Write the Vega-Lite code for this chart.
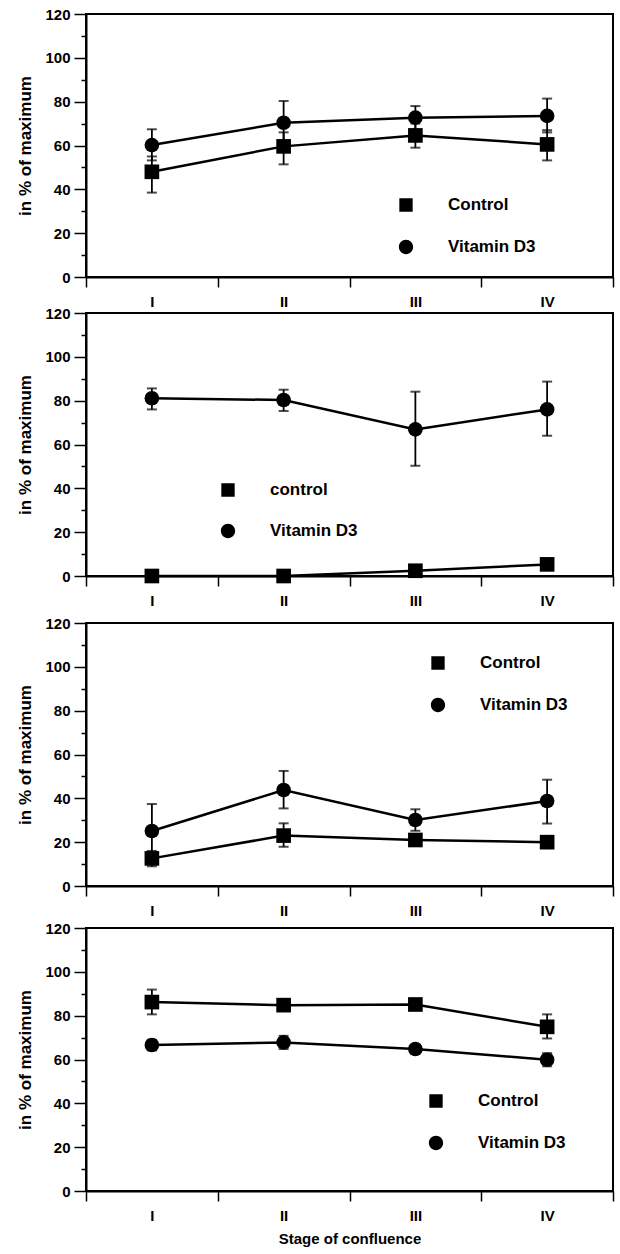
{
  "$schema": "https://vega.github.io/schema/vega-lite/v6.json",
  "padding": {"left": 15, "top": 6, "right": 4, "bottom": 4},
  "background": "white",
  "spacing": 6,
  "config": {
    "font": "Liberation Sans",
    "view": {"stroke": "black", "strokeWidth": 2},
    "axis": {"labelFont": "Liberation Sans", "titleFont": "Liberation Sans", "labelColor": "black", "titleColor": "black", "tickColor": "black", "domainColor": "black", "grid": false},
    "legend": {"labelFont": "Liberation Sans", "labelColor": "black"}
  },
  "resolve": {"scale": {"fill": "independent"}, "legend": {"fill": "independent"}},
  "datasets": {
    "procol": [
      {"stage": "I", "series": "Control", "mean": 48, "lo": 38.5, "hi": 55},
      {"stage": "II", "series": "Control", "mean": 59.6, "lo": 51.4, "hi": 66},
      {"stage": "III", "series": "Control", "mean": 64.6, "lo": 59, "hi": 70},
      {"stage": "IV", "series": "Control", "mean": 60.5, "lo": 53.2, "hi": 67},
      {"stage": "I", "series": "Vitamin D3", "mean": 60.2, "lo": 53.2, "hi": 67.4},
      {"stage": "II", "series": "Vitamin D3", "mean": 70.4, "lo": 61, "hi": 80.3},
      {"stage": "III", "series": "Vitamin D3", "mean": 72.7, "lo": 67, "hi": 78},
      {"stage": "IV", "series": "Vitamin D3", "mean": 73.5, "lo": 66, "hi": 81.4}
    ],
    "oc": [
      {"stage": "I", "series": "control", "mean": 0, "lo": 0, "hi": 0},
      {"stage": "II", "series": "control", "mean": 0, "lo": 0, "hi": 0},
      {"stage": "III", "series": "control", "mean": 2.4, "lo": 1.5, "hi": 3.3},
      {"stage": "IV", "series": "control", "mean": 5.3, "lo": 4, "hi": 6.6},
      {"stage": "I", "series": "Vitamin D3", "mean": 81.1, "lo": 76, "hi": 85.6},
      {"stage": "II", "series": "Vitamin D3", "mean": 80.3, "lo": 75.3, "hi": 85},
      {"stage": "III", "series": "Vitamin D3", "mean": 66.9, "lo": 50.3, "hi": 84.1},
      {"stage": "IV", "series": "Vitamin D3", "mean": 76, "lo": 64, "hi": 88.7}
    ],
    "ap": [
      {"stage": "I", "series": "Control", "mean": 12.6, "lo": 9, "hi": 16},
      {"stage": "II", "series": "Control", "mean": 23, "lo": 17.9, "hi": 28.6},
      {"stage": "III", "series": "Control", "mean": 21, "lo": 19, "hi": 23},
      {"stage": "IV", "series": "Control", "mean": 20, "lo": 18, "hi": 22},
      {"stage": "I", "series": "Vitamin D3", "mean": 25.1, "lo": 13, "hi": 37.4},
      {"stage": "II", "series": "Vitamin D3", "mean": 43.8, "lo": 35.4, "hi": 52.5},
      {"stage": "III", "series": "Vitamin D3", "mean": 30.1, "lo": 25.2, "hi": 35},
      {"stage": "IV", "series": "Vitamin D3", "mean": 38.8, "lo": 28.5, "hi": 48.5}
    ],
    "gapdh": [
      {"stage": "I", "series": "Control", "mean": 86.2, "lo": 80.6, "hi": 91.9},
      {"stage": "II", "series": "Control", "mean": 84.8, "lo": 82.6, "hi": 87},
      {"stage": "III", "series": "Control", "mean": 85.1, "lo": 83, "hi": 87.2},
      {"stage": "IV", "series": "Control", "mean": 74.9, "lo": 69.6, "hi": 80.6},
      {"stage": "I", "series": "Vitamin D3", "mean": 66.6, "lo": 64.2, "hi": 69},
      {"stage": "II", "series": "Vitamin D3", "mean": 67.8, "lo": 64.8, "hi": 70.8},
      {"stage": "III", "series": "Vitamin D3", "mean": 64.8, "lo": 63, "hi": 66.6},
      {"stage": "IV", "series": "Vitamin D3", "mean": 59.9, "lo": 56.9, "hi": 62.9}
    ],
    "stars": [
      {"panel": "procol", "stage": "III", "stars": "*"},
      {"panel": "oc", "stage": "III", "stars": "**"},
      {"panel": "oc", "stage": "IV", "stars": "**"},
      {"panel": "gapdh", "stage": "I", "stars": "**"},
      {"panel": "gapdh", "stage": "II", "stars": "**"},
      {"panel": "gapdh", "stage": "III", "stars": "***"},
      {"panel": "gapdh", "stage": "IV", "stars": "**"}
    ],
    "labels": [
      {"panel": "procol", "stage": "I", "label": "procol I"},
      {"panel": "oc", "stage": "I", "label": "OC"},
      {"panel": "ap", "stage": "I", "label": "AP"},
      {"panel": "gapdh", "stage": "I", "label": "GAPDH"}
    ]
  },
  "vconcat": [
    {
      "spacing": -5,
      "resolve": {"scale": {"fill": "independent"}, "legend": {"fill": "independent"}},
      "vconcat": [
        {
          "width": 527, "height": 263,
          "data": {"name": "procol"},
          "resolve": {"scale": {"fill": "independent"}, "legend": {"fill": "independent"}},
          "encoding": {
            "x": {"field": "stage", "type": "nominal", "scale": {"paddingInner": 0, "paddingOuter": 0},
              "axis": {"title": null, "tickBand": "extent", "tickSize": 10, "tickWidth": 1.5, "labelAngle": 0, "labelPadding": 7, "labelFontSize": 15, "labelFontWeight": "bold", "domainWidth": 2}},
            "y": {"field": "mean", "type": "quantitative", "scale": {"domain": [0, 120], "nice": false},
              "axis": {"title": "in % of maximum", "titleFontSize": 17, "titleFontWeight": "bold", "titlePadding": 10, "values": [0, 10, 20, 30, 40, 50, 60, 70, 80, 90, 100, 110, 120], "labelExpr": "datum.value % 20 == 0 ? datum.label : ''", "labelFontSize": 15, "labelFontWeight": "bold", "labelPadding": 4, "tickSize": {"condition": {"test": "datum.value % 20 == 0", "value": 12}, "value": 5}, "tickWidth": 1.5, "domainWidth": 2}}
          },
          "layer": [
            {"mark": {"type": "rule", "color": "black", "strokeWidth": 1.8}, "encoding": {"y": {"field": "lo", "type": "quantitative", "title": "in % of maximum"}, "y2": {"field": "hi"}}},
            {"mark": {"type": "tick", "color": "black", "thickness": 2, "size": 10}, "encoding": {"y": {"field": "lo", "type": "quantitative", "title": "in % of maximum"}}},
            {"mark": {"type": "tick", "color": "black", "thickness": 2, "size": 10}, "encoding": {"y": {"field": "hi", "type": "quantitative", "title": "in % of maximum"}}},
            {"mark": {"type": "line", "color": "black", "strokeWidth": 2.5}, "encoding": {"detail": {"field": "series"}}},
            {"transform": [{"filter": "datum.series != 'Vitamin D3'"}],
              "mark": {"type": "point", "shape": "square", "filled": true, "opacity": 1, "size": 215},
              "encoding": {"fill": {"field": "series", "type": "nominal", "scale": {"range": ["black"]},
                "legend": {"title": null, "orient": "none", "legendX": 296, "legendY": 167, "padding": 0, "symbolType": "M-1,0L1,0M-0.29,-0.29L0.29,-0.29L0.29,0.29L-0.29,0.29Z", "symbolSize": 2116, "labelFontSize": 17, "labelFontWeight": "bold", "labelOffset": 18,
                  "encode": {"symbols": {"update": {"shape": {"value": "M-1,0L1,0M-0.29,-0.29L0.29,-0.29L0.29,0.29L-0.29,0.29Z"}, "size": {"value": 2116}, "stroke": {"value": "black"}, "strokeWidth": {"value": 2.5}, "fill": {"value": "black"}, "opacity": {"value": 1}}}}}}}},
            {"transform": [{"filter": "datum.series == 'Vitamin D3'"}],
              "mark": {"type": "point", "shape": "circle", "filled": true, "opacity": 1, "size": 215},
              "encoding": {"fill": {"field": "series", "type": "nominal", "scale": {"range": ["black"]},
                "legend": {"title": null, "orient": "none", "legendX": 296, "legendY": 209, "padding": 0, "symbolType": "M-1,0L1,0M0.31,0A0.31,0.31,0,1,1,-0.31,0A0.31,0.31,0,1,1,0.31,0Z", "symbolSize": 2116, "labelFontSize": 17, "labelFontWeight": "bold", "labelOffset": 18,
                  "encode": {"symbols": {"update": {"shape": {"value": "M-1,0L1,0M0.31,0A0.31,0.31,0,1,1,-0.31,0A0.31,0.31,0,1,1,0.31,0Z"}, "size": {"value": 2116}, "stroke": {"value": "black"}, "strokeWidth": {"value": 2.5}, "fill": {"value": "black"}, "opacity": {"value": 1}}}}}}}},
            {"data": {"name": "stars"}, "transform": [{"filter": "datum.panel == 'procol'"}],
              "mark": {"type": "text", "fontSize": 20, "fontWeight": "bold", "color": "black", "baseline": "middle"},
              "encoding": {"y": {"datum": 84, "type": "quantitative"}, "text": {"field": "stars"}}},
            {"data": {"name": "labels"}, "transform": [{"filter": "datum.panel == 'procol'"}],
              "mark": {"type": "text", "align": "left", "baseline": "middle", "dx": -45, "fontSize": 25, "fontWeight": "bold", "color": "black"},
              "encoding": {"y": {"datum": 107.7, "type": "quantitative"}, "text": {"field": "label"}}}
          ]
        },
        {
          "width": 527, "height": 263,
          "data": {"name": "oc"},
          "resolve": {"scale": {"fill": "independent"}, "legend": {"fill": "independent"}},
          "encoding": {
            "x": {"field": "stage", "type": "nominal", "scale": {"paddingInner": 0, "paddingOuter": 0},
              "axis": {"title": null, "tickBand": "extent", "tickSize": 10, "tickWidth": 1.5, "labelAngle": 0, "labelPadding": 7, "labelFontSize": 15, "labelFontWeight": "bold", "domainWidth": 2}},
            "y": {"field": "mean", "type": "quantitative", "scale": {"domain": [0, 120], "nice": false},
              "axis": {"title": "in % of maximum", "titleFontSize": 17, "titleFontWeight": "bold", "titlePadding": 10, "values": [0, 10, 20, 30, 40, 50, 60, 70, 80, 90, 100, 110, 120], "labelExpr": "datum.value % 20 == 0 ? datum.label : ''", "labelFontSize": 15, "labelFontWeight": "bold", "labelPadding": 4, "tickSize": {"condition": {"test": "datum.value % 20 == 0", "value": 12}, "value": 5}, "tickWidth": 1.5, "domainWidth": 2}}
          },
          "layer": [
            {"mark": {"type": "rule", "color": "black", "strokeWidth": 1.8}, "encoding": {"y": {"field": "lo", "type": "quantitative", "title": "in % of maximum"}, "y2": {"field": "hi"}}},
            {"mark": {"type": "tick", "color": "black", "thickness": 2, "size": 10}, "encoding": {"y": {"field": "lo", "type": "quantitative", "title": "in % of maximum"}}},
            {"mark": {"type": "tick", "color": "black", "thickness": 2, "size": 10}, "encoding": {"y": {"field": "hi", "type": "quantitative", "title": "in % of maximum"}}},
            {"mark": {"type": "line", "color": "black", "strokeWidth": 2.5}, "encoding": {"detail": {"field": "series"}}},
            {"transform": [{"filter": "datum.series != 'Vitamin D3'"}],
              "mark": {"type": "point", "shape": "square", "filled": true, "opacity": 1, "size": 215},
              "encoding": {"fill": {"field": "series", "type": "nominal", "scale": {"range": ["black"]},
                "legend": {"title": null, "orient": "none", "legendX": 118, "legendY": 153, "padding": 0, "symbolType": "M-1,0L1,0M-0.29,-0.29L0.29,-0.29L0.29,0.29L-0.29,0.29Z", "symbolSize": 2116, "labelFontSize": 17, "labelFontWeight": "bold", "labelOffset": 18,
                  "encode": {"symbols": {"update": {"shape": {"value": "M-1,0L1,0M-0.29,-0.29L0.29,-0.29L0.29,0.29L-0.29,0.29Z"}, "size": {"value": 2116}, "stroke": {"value": "black"}, "strokeWidth": {"value": 2.5}, "fill": {"value": "black"}, "opacity": {"value": 1}}}}}}}},
            {"transform": [{"filter": "datum.series == 'Vitamin D3'"}],
              "mark": {"type": "point", "shape": "circle", "filled": true, "opacity": 1, "size": 215},
              "encoding": {"fill": {"field": "series", "type": "nominal", "scale": {"range": ["black"]},
                "legend": {"title": null, "orient": "none", "legendX": 118, "legendY": 194, "padding": 0, "symbolType": "M-1,0L1,0M0.31,0A0.31,0.31,0,1,1,-0.31,0A0.31,0.31,0,1,1,0.31,0Z", "symbolSize": 2116, "labelFontSize": 17, "labelFontWeight": "bold", "labelOffset": 18,
                  "encode": {"symbols": {"update": {"shape": {"value": "M-1,0L1,0M0.31,0A0.31,0.31,0,1,1,-0.31,0A0.31,0.31,0,1,1,0.31,0Z"}, "size": {"value": 2116}, "stroke": {"value": "black"}, "strokeWidth": {"value": 2.5}, "fill": {"value": "black"}, "opacity": {"value": 1}}}}}}}},
            {"data": {"name": "stars"}, "transform": [{"filter": "datum.panel == 'oc'"}],
              "mark": {"type": "text", "fontSize": 20, "fontWeight": "bold", "color": "black", "baseline": "middle"},
              "encoding": {"y": {"datum": 94.7, "type": "quantitative"}, "text": {"field": "stars"}}},
            {"data": {"name": "labels"}, "transform": [{"filter": "datum.panel == 'oc'"}],
              "mark": {"type": "text", "align": "left", "baseline": "middle", "dx": -45, "fontSize": 25, "fontWeight": "bold", "color": "black"},
              "encoding": {"y": {"datum": 18.3, "type": "quantitative"}, "text": {"field": "label"}}}
          ]
        }
      ]
    },
    {
      "spacing": 1,
      "resolve": {"scale": {"fill": "independent"}, "legend": {"fill": "independent"}},
      "vconcat": [
        {
          "width": 527, "height": 263,
          "data": {"name": "ap"},
          "resolve": {"scale": {"fill": "independent"}, "legend": {"fill": "independent"}},
          "encoding": {
            "x": {"field": "stage", "type": "nominal", "scale": {"paddingInner": 0, "paddingOuter": 0},
              "axis": {"title": null, "tickBand": "extent", "tickSize": 10, "tickWidth": 1.5, "labelAngle": 0, "labelPadding": 7, "labelFontSize": 15, "labelFontWeight": "bold", "domainWidth": 2}},
            "y": {"field": "mean", "type": "quantitative", "scale": {"domain": [0, 120], "nice": false},
              "axis": {"title": "in % of maximum", "titleFontSize": 17, "titleFontWeight": "bold", "titlePadding": 10, "values": [0, 10, 20, 30, 40, 50, 60, 70, 80, 90, 100, 110, 120], "labelExpr": "datum.value % 20 == 0 ? datum.label : ''", "labelFontSize": 15, "labelFontWeight": "bold", "labelPadding": 4, "tickSize": {"condition": {"test": "datum.value % 20 == 0", "value": 12}, "value": 5}, "tickWidth": 1.5, "domainWidth": 2}}
          },
          "layer": [
            {"mark": {"type": "rule", "color": "black", "strokeWidth": 1.8}, "encoding": {"y": {"field": "lo", "type": "quantitative", "title": "in % of maximum"}, "y2": {"field": "hi"}}},
            {"mark": {"type": "tick", "color": "black", "thickness": 2, "size": 10}, "encoding": {"y": {"field": "lo", "type": "quantitative", "title": "in % of maximum"}}},
            {"mark": {"type": "tick", "color": "black", "thickness": 2, "size": 10}, "encoding": {"y": {"field": "hi", "type": "quantitative", "title": "in % of maximum"}}},
            {"mark": {"type": "line", "color": "black", "strokeWidth": 2.5}, "encoding": {"detail": {"field": "series"}}},
            {"transform": [{"filter": "datum.series != 'Vitamin D3'"}],
              "mark": {"type": "point", "shape": "square", "filled": true, "opacity": 1, "size": 215},
              "encoding": {"fill": {"field": "series", "type": "nominal", "scale": {"range": ["black"]},
                "legend": {"title": null, "orient": "none", "legendX": 328, "legendY": 16, "padding": 0, "symbolType": "M-1,0L1,0M-0.29,-0.29L0.29,-0.29L0.29,0.29L-0.29,0.29Z", "symbolSize": 2116, "labelFontSize": 17, "labelFontWeight": "bold", "labelOffset": 18,
                  "encode": {"symbols": {"update": {"shape": {"value": "M-1,0L1,0M-0.29,-0.29L0.29,-0.29L0.29,0.29L-0.29,0.29Z"}, "size": {"value": 2116}, "stroke": {"value": "black"}, "strokeWidth": {"value": 2.5}, "fill": {"value": "black"}, "opacity": {"value": 1}}}}}}}},
            {"transform": [{"filter": "datum.series == 'Vitamin D3'"}],
              "mark": {"type": "point", "shape": "circle", "filled": true, "opacity": 1, "size": 215},
              "encoding": {"fill": {"field": "series", "type": "nominal", "scale": {"range": ["black"]},
                "legend": {"title": null, "orient": "none", "legendX": 328, "legendY": 58, "padding": 0, "symbolType": "M-1,0L1,0M0.31,0A0.31,0.31,0,1,1,-0.31,0A0.31,0.31,0,1,1,0.31,0Z", "symbolSize": 2116, "labelFontSize": 17, "labelFontWeight": "bold", "labelOffset": 18,
                  "encode": {"symbols": {"update": {"shape": {"value": "M-1,0L1,0M0.31,0A0.31,0.31,0,1,1,-0.31,0A0.31,0.31,0,1,1,0.31,0Z"}, "size": {"value": 2116}, "stroke": {"value": "black"}, "strokeWidth": {"value": 2.5}, "fill": {"value": "black"}, "opacity": {"value": 1}}}}}}}},
            {"data": {"name": "labels"}, "transform": [{"filter": "datum.panel == 'ap'"}],
              "mark": {"type": "text", "align": "left", "baseline": "middle", "dx": -46, "fontSize": 25, "fontWeight": "bold", "color": "black"},
              "encoding": {"y": {"datum": 95.2, "type": "quantitative"}, "text": {"field": "label"}}}
          ]
        },
        {
          "width": 527, "height": 263,
          "data": {"name": "gapdh"},
          "resolve": {"scale": {"fill": "independent"}, "legend": {"fill": "independent"}},
          "encoding": {
            "x": {"field": "stage", "type": "nominal", "scale": {"paddingInner": 0, "paddingOuter": 0},
              "axis": {"title": "Stage of confluence", "titleFontSize": 15, "titleFontWeight": "bold", "titlePadding": 8, "tickBand": "extent", "tickSize": 10, "tickWidth": 1.5, "labelAngle": 0, "labelPadding": 7, "labelFontSize": 15, "labelFontWeight": "bold", "domainWidth": 2}},
            "y": {"field": "mean", "type": "quantitative", "scale": {"domain": [0, 120], "nice": false},
              "axis": {"title": "in % of maximum", "titleFontSize": 17, "titleFontWeight": "bold", "titlePadding": 10, "values": [0, 10, 20, 30, 40, 50, 60, 70, 80, 90, 100, 110, 120], "labelExpr": "datum.value % 20 == 0 ? datum.label : ''", "labelFontSize": 15, "labelFontWeight": "bold", "labelPadding": 4, "tickSize": {"condition": {"test": "datum.value % 20 == 0", "value": 12}, "value": 5}, "tickWidth": 1.5, "domainWidth": 2}}
          },
          "layer": [
            {"mark": {"type": "rule", "color": "black", "strokeWidth": 1.8}, "encoding": {"y": {"field": "lo", "type": "quantitative", "title": "in % of maximum"}, "y2": {"field": "hi"}}},
            {"mark": {"type": "tick", "color": "black", "thickness": 2, "size": 10}, "encoding": {"y": {"field": "lo", "type": "quantitative", "title": "in % of maximum"}}},
            {"mark": {"type": "tick", "color": "black", "thickness": 2, "size": 10}, "encoding": {"y": {"field": "hi", "type": "quantitative", "title": "in % of maximum"}}},
            {"mark": {"type": "line", "color": "black", "strokeWidth": 2.5}, "encoding": {"detail": {"field": "series"}}},
            {"transform": [{"filter": "datum.series != 'Vitamin D3'"}],
              "mark": {"type": "point", "shape": "square", "filled": true, "opacity": 1, "size": 215},
              "encoding": {"fill": {"field": "series", "type": "nominal", "scale": {"range": ["black"]},
                "legend": {"title": null, "orient": "none", "legendX": 326, "legendY": 149, "padding": 0, "symbolType": "M-1,0L1,0M-0.29,-0.29L0.29,-0.29L0.29,0.29L-0.29,0.29Z", "symbolSize": 2116, "labelFontSize": 17, "labelFontWeight": "bold", "labelOffset": 18,
                  "encode": {"symbols": {"update": {"shape": {"value": "M-1,0L1,0M-0.29,-0.29L0.29,-0.29L0.29,0.29L-0.29,0.29Z"}, "size": {"value": 2116}, "stroke": {"value": "black"}, "strokeWidth": {"value": 2.5}, "fill": {"value": "black"}, "opacity": {"value": 1}}}}}}}},
            {"transform": [{"filter": "datum.series == 'Vitamin D3'"}],
              "mark": {"type": "point", "shape": "circle", "filled": true, "opacity": 1, "size": 215},
              "encoding": {"fill": {"field": "series", "type": "nominal", "scale": {"range": ["black"]},
                "legend": {"title": null, "orient": "none", "legendX": 326, "legendY": 191, "padding": 0, "symbolType": "M-1,0L1,0M0.31,0A0.31,0.31,0,1,1,-0.31,0A0.31,0.31,0,1,1,0.31,0Z", "symbolSize": 2116, "labelFontSize": 17, "labelFontWeight": "bold", "labelOffset": 18,
                  "encode": {"symbols": {"update": {"shape": {"value": "M-1,0L1,0M0.31,0A0.31,0.31,0,1,1,-0.31,0A0.31,0.31,0,1,1,0.31,0Z"}, "size": {"value": 2116}, "stroke": {"value": "black"}, "strokeWidth": {"value": 2.5}, "fill": {"value": "black"}, "opacity": {"value": 1}}}}}}}},
            {"data": {"name": "stars"}, "transform": [{"filter": "datum.panel == 'gapdh'"}],
              "mark": {"type": "text", "fontSize": 20, "fontWeight": "bold", "color": "black", "baseline": "middle"},
              "encoding": {"y": {"datum": 103.4, "type": "quantitative"}, "text": {"field": "stars"}}},
            {"data": {"name": "labels"}, "transform": [{"filter": "datum.panel == 'gapdh'"}],
              "mark": {"type": "text", "align": "left", "baseline": "middle", "dx": -21, "fontSize": 25, "fontWeight": "bold", "color": "black"},
              "encoding": {"y": {"datum": 21, "type": "quantitative"}, "text": {"field": "label"}}}
          ]
        }
      ]
    }
  ]
}
